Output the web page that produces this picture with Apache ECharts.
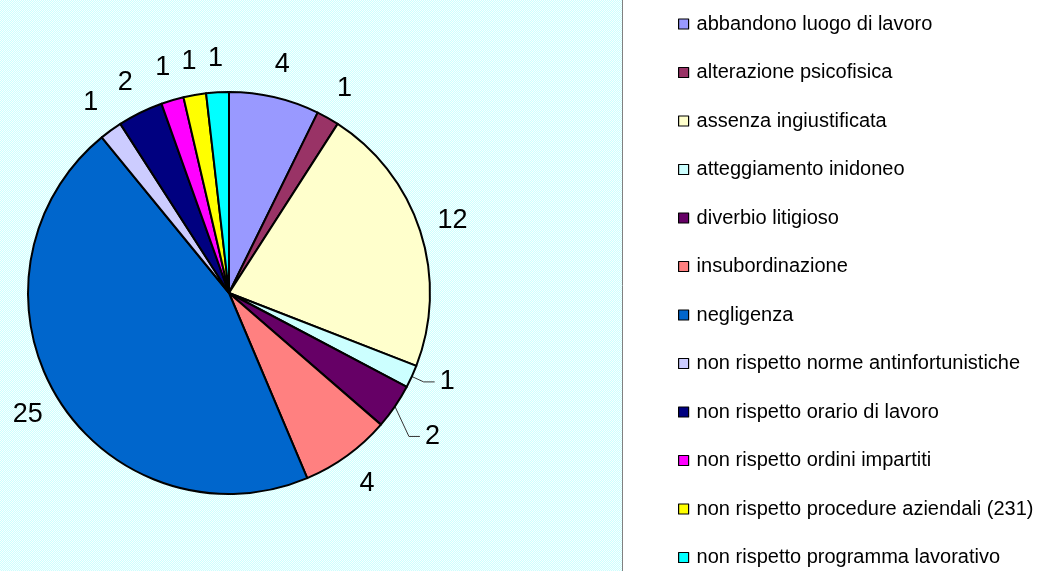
<!DOCTYPE html>
<html>
<head>
<meta charset="utf-8">
<script src="https://cdn.jsdelivr.net/npm/echarts@6/dist/echarts.min.js"></script>
<style>
  html, body { margin: 0; padding: 0; }
  #chart {
    width: 1053px;
    height: 571px;
    background-color: #e2ffff;
    background-image: conic-gradient(#ccffff 25%, #f8ffff 0 50%, #ccffff 0 75%, #f8ffff 0);
    background-size: 2px 2px;
  }
</style>
</head>
<body>
<div id="chart"></div>
<script>
const categories = [
  'abbandono luogo di lavoro',
  'alterazione psicofisica',
  'assenza ingiustificata',
  'atteggiamento inidoneo',
  'diverbio litigioso',
  'insubordinazione',
  'negligenza',
  'non rispetto norme antinfortunistiche',
  'non rispetto orario di lavoro',
  'non rispetto ordini impartiti',
  'non rispetto procedure aziendali (231)',
  'non rispetto programma lavorativo'
]
const counts = [4, 1, 12, 1, 2, 4, 25, 1, 2, 1, 1, 1]
const sliceColors = ['#9999ff', '#993366', '#ffffcc', '#ccffff', '#660066', '#ff8080',
                     '#0066cc', '#ccccff', '#000080', '#ff00ff', '#ffff00', '#00ffff']

// slices whose label hangs on a leader line
const leaderItems = ['atteggiamento inidoneo', 'diverbio litigioso']

const chart = echarts.init(document.getElementById('chart'))

const pieData = categories.map((name, i) => {
  const item = { name: name, value: counts[i] }
  if (leaderItems.includes(name)) {
    item.labelLine = {
      length: 13,
      length2: 11,
      lineStyle: { color: '#333', width: 1 }
    }
  }
  return item
})

chart.setOption({
  animation: false,
  color: sliceColors,
  graphic: [
    {
      type: 'rect',
      z: -1,
      shape: { x: 623, y: 0, width: 430, height: 571 },
      style: { fill: '#fff' }
    },
    {
      type: 'line',
      z: 10,
      shape: { x1: 622.5, y1: 0, x2: 622.5, y2: 571 },
      style: { stroke: '#808080', lineWidth: 1 }
    }
  ],
  legend: {
    orient: 'vertical',
    left: 678,
    top: 14,
    height: 580,
    padding: 0,
    itemWidth: 10,
    itemHeight: 10,
    itemGap: 28.5,
    selectedMode: false,
    icon: 'rect',
    itemStyle: { borderColor: '#000', borderWidth: 1.2 },
    textStyle: {
      fontFamily: 'Liberation Sans, Arial, sans-serif',
      fontSize: 20,
      lineHeight: 20,
      color: '#000',
      padding: [0, 0, 0, 3]
    },
    data: categories
  },
  series: [
    {
      type: 'pie',
      center: [229, 293],
      radius: 201,
      startAngle: 90,
      clockwise: true,
      avoidLabelOverlap: false,
      emphasis: { disabled: true },
      itemStyle: { borderColor: '#000', borderWidth: 2 },
      label: {
        show: true,
        position: 'outside',
        distance: 5,
        formatter: '{c}',
        fontFamily: 'Liberation Sans, Arial, sans-serif',
        fontSize: 27,
        color: '#000'
      },
      labelLine: {
        show: true,
        length: 34,
        length2: 0,
        lineStyle: { color: 'rgba(0,0,0,0)' }
      },
      labelLayout: function (params) {
        const name = categories[params.dataIndex]
        const pts = params.labelLinePoints
        if (!pts) return
        if (name === 'diverbio litigioso') {
          const p0 = pts[0]
          const p1 = [p0[0] + 14, p0[1] + 30]
          const p2 = [p1[0] + 11, p1[1]]
          return {
            x: p2[0] + 5,
            y: p2[1],
            align: 'left',
            verticalAlign: 'middle',
            labelLinePoints: [p0, p1, p2]
          }
        }
        if (leaderItems.includes(name)) return
        return {
          x: pts[1][0],
          y: pts[1][1],
          align: 'center',
          verticalAlign: 'middle'
        }
      },
      data: pieData
    }
  ]
})
</script>
</body>
</html>
